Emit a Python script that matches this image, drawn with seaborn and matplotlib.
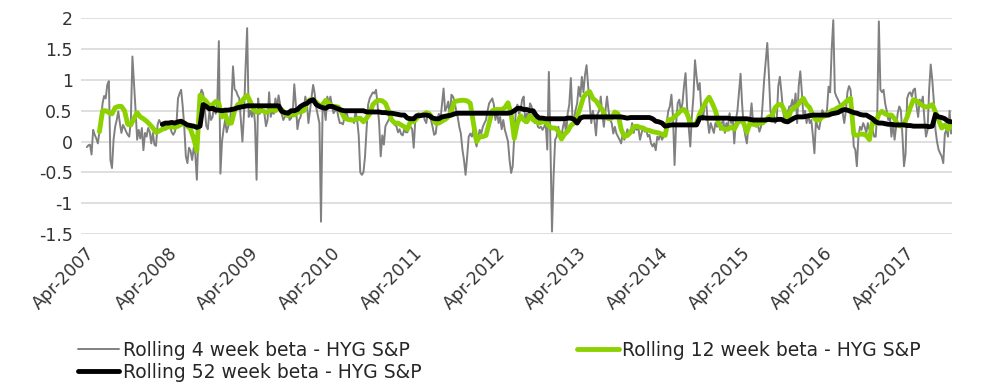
import pandas as pd
import matplotlib.pyplot as plt
import seaborn as sns

# weekly rolling 4 week beta, from mid April 2007
beta_4w = [
    -0.09, -0.06, -0.05, -0.21, 0.19, 0.11, 0.05, -0.03, 0.16, 0.35,
    0.62, 0.74, 0.7, 0.92, 0.98, -0.3, -0.43, 0.03, 0.24, 0.35,
    0.49, 0.3, 0.14, 0.27, 0.22, 0.16, 0.11, 0.08, 0.35, 1.38,
    0.95, 0.51, 0.03, 0.19, 0.05, 0.22, -0.14, 0.14, 0.08, 0.22,
    0.16, -0.03, 0.14, -0.05, -0.07, 0.27, 0.35, 0.3, 0.24, 0.27,
    0.19, 0.27, 0.22, 0.24, 0.15, 0.11, 0.16, 0.27, 0.7, 0.78,
    0.84, 0.57, 0.24, -0.24, -0.35, -0.1, -0.15, -0.3, -0.1, -0.2,
    -0.62, 0.1, 0.75, 0.84, 0.78, 0.55, 0.25, 0.2, 0.5, 0.35,
    0.4, 0.6, 0.45, 0.6, 1.63, -0.52, 0.0, 0.2, 0.35, 0.15,
    0.25, 0.3, 0.6, 1.22, 0.85, 0.82, 0.75, 0.7, 0.35, 0.0,
    0.45, 1.2, 1.84, 0.4, 0.5, 0.4, 0.6, 0.3, -0.62, 0.7,
    0.45, 0.55, 0.5, 0.45, 0.25, 0.35, 0.8, 0.4, 0.5, 0.45,
    0.7, 0.55, 0.75, 0.6, 0.45, 0.35, 0.4, 0.45, 0.5, 0.35,
    0.38, 0.45, 0.93, 0.6, 0.2, 0.35, 0.4, 0.55, 0.5, 0.73,
    0.62, 0.3, 0.5, 0.72, 0.92, 0.78, 0.55, 0.42, 0.3, -1.3,
    0.5, 0.55, 0.35, 0.73, 0.62, 0.73, 0.57, 0.46, 0.5, 0.55,
    0.4, 0.3, 0.3, 0.28, 0.4, 0.5, 0.4, 0.35, 0.38, 0.35,
    0.3, 0.5, 0.35, 0.1, -0.5, -0.54, -0.5, -0.25, 0.2, 0.6,
    0.7, 0.75, 0.8, 0.78, 0.84, 0.6, 0.3, -0.24, 0.1, -0.05,
    0.25, 0.3, 0.35, 0.4, 0.35, 0.3, 0.27, 0.25, 0.15, 0.2,
    0.12, 0.1, 0.2, 0.15, 0.15, 0.25, 0.24, 0.2, -0.1, 0.35,
    0.4, 0.46, 0.45, 0.4, 0.46, 0.35, 0.3, 0.46, 0.4, 0.35,
    0.24, 0.11, 0.13, 0.35, 0.45, 0.35, 0.6, 0.86, 0.5, 0.55,
    0.65, 0.4, 0.76, 0.73, 0.65, 0.5, 0.4, 0.24, 0.13, -0.13,
    -0.3, -0.54, -0.25, 0.08, 0.13, 0.08, 0.19, 0.03, -0.08, 0.08,
    0.19, 0.13, 0.24, 0.3, 0.35, 0.5, 0.62, 0.66, 0.7, 0.6,
    0.35, 0.5, 0.3, 0.4, 0.2, 0.35, 0.19, 0.1, 0.0, -0.3,
    -0.51, -0.4, 0.1, 0.5, 0.6, 0.45, 0.51, 0.68, 0.73, 0.3,
    0.46, 0.35, 0.62, 0.57, 0.35, 0.3, 0.4, 0.24, 0.22, 0.24,
    0.19, 0.24, 0.3, -0.13, 1.13, -0.03, -1.46, -0.57, 0.03, 0.08,
    0.24, 0.13, 0.08, 0.24, 0.35, 0.13, 0.46, 0.6, 1.03, 0.4,
    0.35, 0.51, 0.62, 0.89, 0.73, 1.05, 0.8, 1.08, 1.24, 0.9,
    0.6, 0.3, 0.5, 0.35, 0.1, 0.45, 0.5, 0.73, 0.45, 0.24,
    0.5, 0.73, 0.5, 0.35, 0.3, 0.13, 0.24, 0.13, 0.08, 0.03,
    -0.03, 0.13, 0.03, 0.1, 0.2, 0.1, 0.14, 0.3, 0.14, 0.24,
    0.19, 0.22, 0.03, 0.14, 0.24, 0.16, 0.19, 0.08, 0.11, -0.03,
    -0.08, -0.03, -0.14, 0.08, 0.03, 0.14, 0.03, 0.08, 0.19, 0.3,
    0.5, 0.57, 0.76, 0.4, -0.38, 0.3, 0.62, 0.68, 0.5, 0.62,
    0.9, 1.11, 0.55, 0.24, -0.08, 0.4, 0.73, 1.32, 1.05, 0.84,
    0.95, 0.51, 0.35, 0.57, 0.68, 0.35, 0.14, 0.3, 0.22, 0.14,
    0.3, 0.24, 0.35, 0.19, 0.3, 0.35, 0.14, 0.3, 0.24, 0.46,
    0.3, 0.4, -0.03, 0.35, 0.5, 0.8, 1.1, 0.6, 0.25, 0.1,
    -0.03, 0.24, 0.35, 0.62, 0.3, 0.35, 0.24, 0.27, 0.16, 0.24,
    0.6, 1.0, 1.3, 1.6, 1.1, 0.5, 0.38, 0.46, 0.3, 0.35,
    0.9, 1.05, 0.8, 0.5, 0.35, 0.4, 0.46, 0.57, 0.57, 0.68,
    0.51, 0.78, 0.3, 0.9, 1.14, 0.8, 0.4, 0.5, 0.3, 0.45,
    0.3, 0.35, 0.1, -0.19, 0.35, 0.24, 0.2, 0.35, 0.51, 0.46,
    0.4, 0.51, 0.89, 0.8, 1.5, 1.97, 0.8, 0.73, 0.68, 0.62,
    0.57, 0.46, 0.3, 0.5, 0.8, 0.9, 0.84, 0.5, -0.08, -0.13,
    -0.4, 0.08, 0.24, 0.19, 0.3, 0.24, 0.14, 0.3, 0.19, 0.24,
    0.19, 0.08, 0.08, 0.5, 1.95, 0.84, 0.8, 0.84, 0.62, 0.5,
    0.35, 0.4, 0.08, 0.3, 0.03, 0.24, 0.46, 0.57, 0.51, 0.1,
    -0.4, -0.2, 0.7, 0.78, 0.8, 0.73, 0.84, 0.86, 0.57, 0.4,
    0.68, 0.62, 0.73, 0.35, 0.08, 0.19, 0.84, 1.25, 1.0, 0.65,
    0.2, 0.0, -0.13, -0.19, -0.24, -0.35, 0.13, 0.19, 0.08, 0.5, 0.13,
]

# rolling 12 week beta, read every second week
beta_12w = [
    0.16, 0.5, 0.5, 0.47, 0.45, 0.55, 0.57, 0.57, 0.5, 0.28,
    0.27, 0.38, 0.47, 0.4, 0.37, 0.33, 0.28, 0.22, 0.15, 0.17,
    0.2, 0.22, 0.24, 0.24, 0.23, 0.25, 0.28, 0.3, 0.25, 0.2,
    0.05, -0.15, 0.75, 0.7, 0.65, 0.58, 0.6, 0.65, 0.62, 0.4,
    0.45, 0.3, 0.3, 0.5, 0.6, 0.63, 0.7, 0.75, 0.65, 0.52,
    0.48, 0.5, 0.5, 0.47, 0.5, 0.52, 0.5, 0.55, 0.52, 0.45,
    0.42, 0.45, 0.43, 0.48, 0.48, 0.5, 0.63, 0.68, 0.66, 0.64,
    0.58, 0.6, 0.67, 0.62, 0.57, 0.57, 0.56, 0.48, 0.38, 0.36,
    0.35, 0.35, 0.37, 0.38, 0.32, 0.38, 0.45, 0.6, 0.65, 0.67,
    0.66, 0.62, 0.5, 0.35, 0.3, 0.3, 0.27, 0.24, 0.2, 0.33,
    0.32, 0.38, 0.43, 0.43, 0.47, 0.45, 0.38, 0.3, 0.3, 0.33,
    0.36, 0.4, 0.5, 0.65, 0.66, 0.67, 0.67, 0.66, 0.62, 0.3,
    0.0, 0.08, 0.08, 0.1, 0.3, 0.5, 0.52, 0.52, 0.52, 0.55,
    0.63, 0.45, 0.05, 0.3, 0.42, 0.35, 0.32, 0.42, 0.35, 0.32,
    0.3, 0.32, 0.32, 0.25, 0.22, 0.22, 0.17, 0.04, 0.12, 0.17,
    0.26, 0.3, 0.4, 0.55, 0.72, 0.78, 0.81, 0.7, 0.66, 0.58,
    0.52, 0.41, 0.37, 0.38, 0.48, 0.45, 0.2, 0.08, 0.1, 0.15,
    0.24, 0.25, 0.23, 0.22, 0.19, 0.18, 0.16, 0.15, 0.14, 0.12,
    0.1, 0.35, 0.36, 0.4, 0.45, 0.5, 0.52, 0.45, 0.3, 0.27,
    0.3, 0.45, 0.55, 0.65, 0.72, 0.62, 0.5, 0.3, 0.22, 0.2,
    0.2, 0.24, 0.2, 0.3, 0.35, 0.3, 0.15, 0.3, 0.28, 0.27,
    0.3, 0.3, 0.35, 0.4, 0.42, 0.55, 0.6, 0.6, 0.5, 0.35,
    0.5, 0.55, 0.58, 0.65, 0.7, 0.6, 0.55, 0.42, 0.35, 0.35,
    0.4, 0.42, 0.46, 0.5, 0.52, 0.55, 0.58, 0.62, 0.67, 0.7,
    0.12, 0.1, 0.12, 0.12, 0.1, 0.03, 0.32, 0.3, 0.45, 0.49,
    0.45, 0.43, 0.43, 0.37, 0.27, 0.25, 0.28, 0.4, 0.55, 0.68,
    0.66, 0.62, 0.58, 0.56, 0.57, 0.6, 0.48, 0.35, 0.22, 0.27,
    0.2, 0.27,
]

# rolling 52 week beta, read every second week
beta_52w = [
    0.28, 0.3, 0.3, 0.31, 0.3, 0.32, 0.33, 0.3, 0.27, 0.26,
    0.25, 0.23, 0.25, 0.6, 0.57, 0.53, 0.54, 0.51, 0.51, 0.5,
    0.51, 0.51, 0.52, 0.53, 0.55, 0.56, 0.57, 0.58, 0.58, 0.58,
    0.58, 0.58, 0.58, 0.58, 0.58, 0.58, 0.58, 0.58, 0.49, 0.47,
    0.46, 0.5, 0.5, 0.52, 0.57, 0.6, 0.62, 0.66, 0.68, 0.6,
    0.57, 0.55, 0.54, 0.57, 0.57, 0.55, 0.53, 0.51, 0.5, 0.5,
    0.5, 0.5, 0.5, 0.5, 0.5, 0.48, 0.48, 0.48, 0.48, 0.48,
    0.47, 0.47, 0.46, 0.46, 0.45, 0.44, 0.43, 0.43, 0.38, 0.37,
    0.37, 0.42, 0.42, 0.43, 0.43, 0.42, 0.38, 0.37, 0.37, 0.4,
    0.41, 0.42, 0.43, 0.45, 0.46, 0.46, 0.46, 0.46, 0.46, 0.46,
    0.46, 0.46, 0.46, 0.46, 0.46, 0.46, 0.46, 0.46, 0.46, 0.46,
    0.46, 0.47, 0.5, 0.54, 0.54, 0.52, 0.52, 0.5, 0.5, 0.42,
    0.38, 0.38, 0.37, 0.37, 0.37, 0.37, 0.37, 0.37, 0.37, 0.38,
    0.38, 0.36, 0.3, 0.38, 0.4, 0.4, 0.4, 0.4, 0.4, 0.4,
    0.4, 0.4, 0.4, 0.4, 0.4, 0.4, 0.4, 0.39, 0.38, 0.39,
    0.39, 0.39, 0.39, 0.39, 0.39, 0.39, 0.37, 0.33, 0.32, 0.3,
    0.25, 0.26, 0.27, 0.27, 0.27, 0.27, 0.27, 0.27, 0.27, 0.27,
    0.27, 0.38, 0.39, 0.38, 0.38, 0.38, 0.38, 0.38, 0.38, 0.38,
    0.38, 0.37, 0.37, 0.37, 0.37, 0.37, 0.37, 0.36, 0.35, 0.35,
    0.35, 0.35, 0.35, 0.36, 0.35, 0.35, 0.36, 0.36, 0.33, 0.32,
    0.35, 0.38, 0.4, 0.4, 0.4, 0.41, 0.42, 0.43, 0.43, 0.43,
    0.43, 0.43, 0.43, 0.45, 0.46, 0.47, 0.5, 0.52, 0.51, 0.49,
    0.47, 0.46, 0.44, 0.43, 0.43, 0.4, 0.37, 0.32, 0.3, 0.3,
    0.29, 0.28, 0.28, 0.27, 0.27, 0.27, 0.27, 0.26, 0.26, 0.25,
    0.25, 0.25, 0.25, 0.25, 0.24, 0.25, 0.44, 0.4, 0.39, 0.37,
    0.33, 0.32,
]

label_4w = "Rolling 4 week beta - HYG S&P"
label_12w = "Rolling 12 week beta - HYG S&P"
label_52w = "Rolling 52 week beta - HYG S&P"
y_ticks = [-1.5, -1, -0.5, 0, 0.5, 1, 1.5, 2]
tick_years = list(range(2007, 2018))

dates_4w = pd.date_range("2007-04-13", periods=len(beta_4w), freq="7D")
dates_12w = pd.date_range(dates_4w[8], periods=len(beta_12w), freq="14D")
dates_52w = pd.date_range(dates_4w[48], periods=len(beta_52w), freq="14D")
tick_dates = [pd.Timestamp(f"{y}-04-08") for y in tick_years]

sns.set_style("white")
plt.rcParams["font.family"] = ["DejaVu Sans"]

fig = plt.figure(figsize=(9.88, 3.82), dpi=100)
ax = fig.add_axes([0.082, 0.3874, 0.8816, 0.5647])

sns.lineplot(x=dates_4w, y=beta_4w, ax=ax, color="#808080", linewidth=1.4, label=label_4w)
sns.lineplot(x=dates_12w, y=beta_12w, ax=ax, color="#8CD200", linewidth=3.5, label=label_12w)
sns.lineplot(x=dates_52w, y=beta_52w, ax=ax, color="black", linewidth=3.5, label=label_52w)

ax.set_ylim(-1.5, 2)
ax.set_xlim(pd.Timestamp("2007-03-18"), pd.Timestamp("2017-10-31"))
ax.set_yticks(y_ticks)
ax.set_yticklabels([f"{v:g}" for v in y_ticks])
ax.set_xticks(tick_dates)
ax.set_xticklabels([d.strftime("%b-%Y") for d in tick_dates], rotation=45,
                   ha="right", va="top", rotation_mode="anchor")
ax.tick_params(axis="both", length=0, labelsize=12.5, colors="#333333")
ax.tick_params(axis="x", pad=7)
ax.tick_params(axis="y", pad=6)
ax.grid(axis="y", color="#d9d9d9", linewidth=1.2)
ax.set_axisbelow(True)
ax.set_xlabel("")
ax.set_ylabel("")
sns.despine(ax=ax, left=True, bottom=True)

# legend: 4w and 52w in the first column, 12w in the second
handles, labels = ax.get_legend_handles_labels()
ax.get_legend().remove()
order = [0, 2, 1]
fig.legend([handles[i] for i in order], [labels[i] for i in order],
           loc="upper left", bbox_to_anchor=(0.079, 0.108), ncol=2,
           frameon=False, fontsize=13.5, handlelength=2.2, handletextpad=0.2,
           columnspacing=8.3, labelspacing=0.15, borderpad=0, borderaxespad=0)

fig.savefig("out.png", dpi=100)
